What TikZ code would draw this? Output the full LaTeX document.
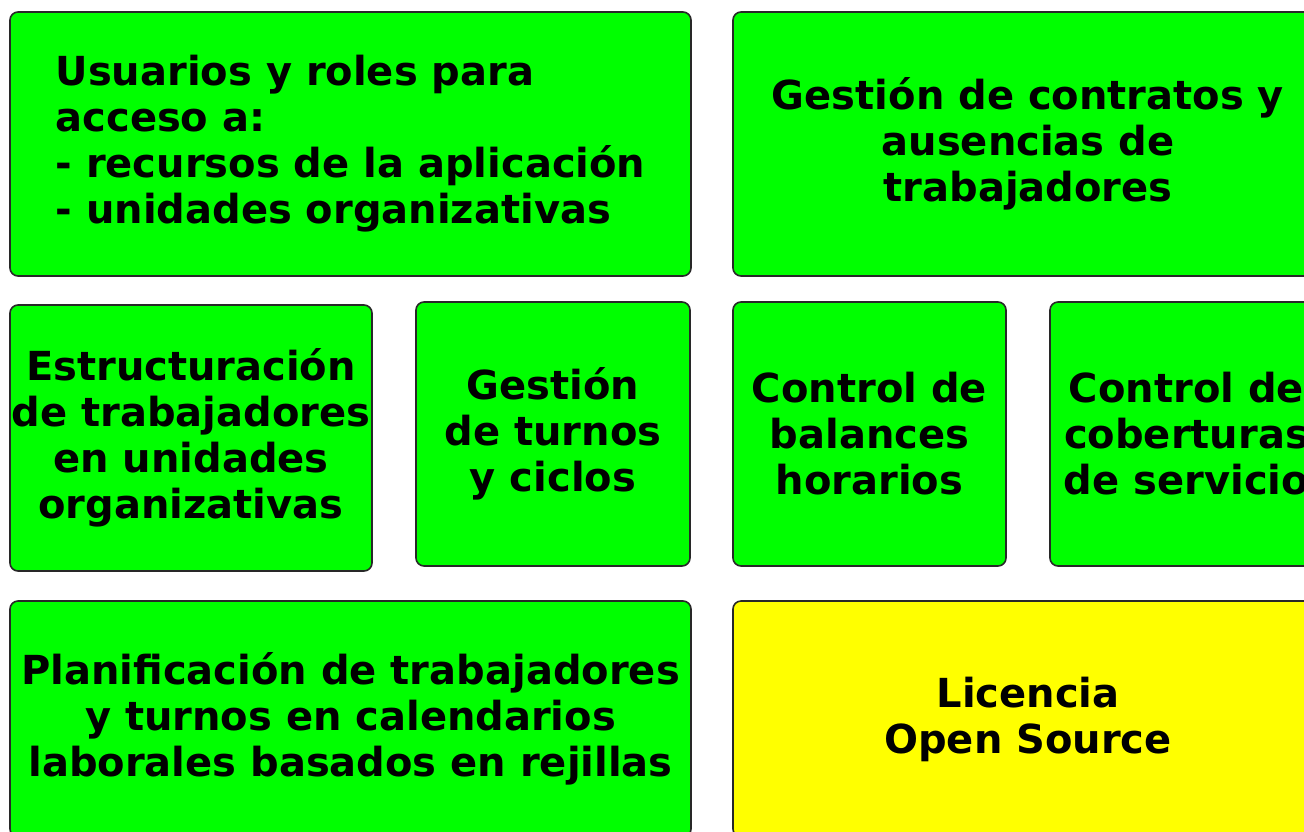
\documentclass[tikz,border=0pt]{standalone}
\usepackage{fontspec}
\setmainfont{DejaVu Sans}
\definecolor{boxgreen}{RGB}{0,255,0}
\definecolor{boxyellow}{RGB}{255,255,0}
\definecolor{boxline}{RGB}{40,40,40}
\begin{document}
\begin{tikzpicture}[x=1pt,y=-1pt,
  box/.style={draw=boxline, line width=1.6pt, rounded corners=8pt, fill=boxgreen, align=center,
    font=\fontsize{40}{46}\selectfont\bfseries, inner sep=0pt},
  ybox/.style={box, fill=boxyellow}]
\useasboundingbox (0,0) rectangle (1304,831);
\clip (0,0) rectangle (1304,831);
\node[box, align=left, minimum width=681, minimum height=264] (roles) at (350.5,144)
  {Usuarios y roles para\\acceso a:\\- recursos de la aplicación\\- unidades organizativas};
\node[box, minimum width=590, minimum height=264] (contratos) at (1028,144)
  {Gestión de contratos y\\ausencias de\\trabajadores};
\node[box, minimum width=362, minimum height=266] (estruct) at (191,438)
  {Estructuración\\de trabajadores\\en unidades\\organizativas};
\node[box, minimum width=274, minimum height=264] (turnos) at (553,434)
  {Gestión\\de turnos\\y ciclos};
\node[box, minimum width=273, minimum height=264] (balances) at (869.5,434)
  {Control de\\balances\\horarios};
\node[box, minimum width=273, minimum height=264] (coberturas) at (1186.5,434)
  {Control de\\coberturas\\de servicio};
\node[box, minimum width=681, minimum height=236] (planif) at (350.5,719)
  {Planificación de trabajadores\\y turnos en calendarios\\laborales basados en rejillas};
\node[ybox, minimum width=590, minimum height=236] (licencia) at (1028,719)
  {Licencia\\Open Source};
\end{tikzpicture}
\end{document}
